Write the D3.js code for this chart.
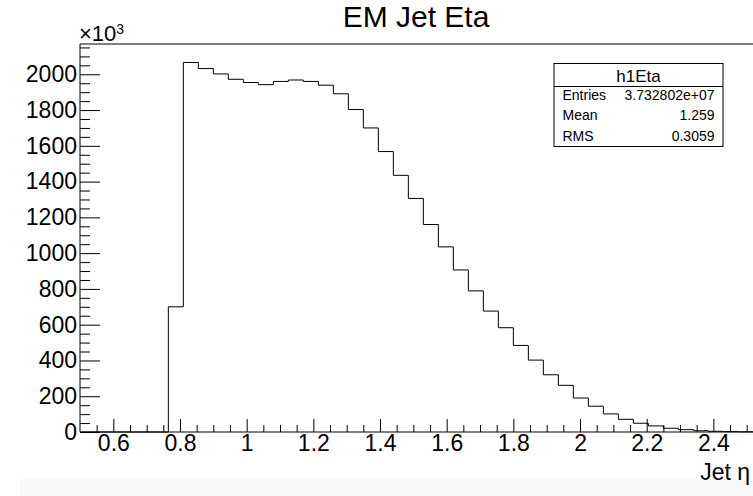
<!DOCTYPE html>
<html>
<head>
<meta charset="utf-8">
<script src="https://cdn.jsdelivr.net/npm/d3@7"></script>
<style>
  body { margin: 0; background: #fff; }
  svg { display: block; font-family: "Liberation Sans", Arial, sans-serif; }
</style>
</head>
<body>
<div id="wrapper"></div>
<script>
// histogram h1Eta : lower bin edges and contents (in units of 10^3)
const binLow = [0.765, 0.81, 0.855, 0.9, 0.945, 0.99, 1.035, 1.08, 1.125, 1.17,
    1.215, 1.26, 1.305, 1.35, 1.395, 1.44, 1.485, 1.53, 1.575, 1.62,
    1.665, 1.71, 1.755, 1.8, 1.845, 1.89, 1.935, 1.98, 2.025, 2.07,
    2.115, 2.16, 2.205, 2.25, 2.295, 2.34, 2.385, 2.43, 2.475, 2.52]
const binContent = [700, 2066, 2032, 2002, 1972, 1954, 1942, 1960, 1968, 1960,
    1939, 1891, 1803, 1700, 1568, 1435, 1306, 1160, 1035, 906,
    789, 676, 583, 484, 402, 320, 261, 190, 144, 101,
    71, 49, 34, 21, 13, 7, 4, 2, 1, 1]
const binWidth = 0.045
const xMajorTicks = [0.6, 0.8, 1, 1.2, 1.4, 1.6, 1.8, 2, 2.2, 2.4]
const yMajorTicks = [0, 200, 400, 600, 800, 1000, 1200, 1400, 1600, 1800, 2000]
const statLabels = ["Entries", "Mean", "RMS"]
const statValues = ["3.732802e+07", "1.259", "0.3059"]

const width = 753
const height = 496
const frame = { left: 80, top: 44, bottom: 432, right: 760 }

const svg = d3.select("#wrapper").append("svg")
    .attr("width", width)
    .attr("height", height)

// faint status strip at the bottom of the canvas
svg.append("rect")
    .attr("x", 20).attr("y", 479)
    .attr("width", width - 20).attr("height", height - 479)
    .attr("fill", "#f8f8f8")

const xScale = d3.scaleLinear()
    .domain([0.5, 2.5])
    .range([frame.left, 746.7])

const yMax = d3.max(binContent) * 1.05
const yScale = d3.scaleLinear()
    .domain([0, yMax])
    .range([frame.bottom, frame.top])

// frame
svg.append("path")
    .attr("d", `M${frame.right},${frame.top}H${frame.left}V${frame.bottom}H${frame.right}`)
    .attr("fill", "none")
    .attr("stroke", "#000")
    .attr("stroke-width", 1)

// histogram outline
const points = [[0.5, 0]]
binLow.forEach((x, i) => points.push([x, binContent[i]]))
points.push([binLow[binLow.length - 1] + binWidth, 0])

const line = d3.line()
    .x(d => xScale(d[0]))
    .y(d => yScale(d[1]))
    .curve(d3.curveStepAfter)

svg.append("path")
    .attr("d", line(points))
    .attr("fill", "none")
    .attr("stroke", "#000")
    .attr("stroke-width", 1)

// x axis (ticks pointing inward)
const xMinor = d3.range(0.55, 2.56, 0.05).filter(v => !xMajorTicks.some(m => Math.abs(m - v) < 1e-6))

svg.append("g")
    .attr("transform", `translate(0,${frame.bottom})`)
    .call(d3.axisBottom(xScale).tickValues(xMinor).tickSize(-7).tickFormat(""))
    .call(g => g.select(".domain").remove())

svg.append("g")
    .attr("transform", `translate(0,${frame.bottom})`)
    .call(d3.axisBottom(xScale).tickValues(xMajorTicks).tickSize(-13).tickPadding(3).tickFormat(d3.format("")))
    .call(g => g.select(".domain").remove())
    .call(g => g.selectAll("text")
        .attr("font-size", 23)
        .attr("font-family", "Liberation Sans, Arial, sans-serif")
        .attr("dy", "0.71em")
        .attr("fill", "#000"))

// y axis
const yMinor = d3.range(50, yMax, 50).filter(v => v % 200 !== 0)

svg.append("g")
    .attr("transform", `translate(${frame.left},0)`)
    .call(d3.axisLeft(yScale).tickValues(yMinor).tickSize(-10).tickFormat(""))
    .call(g => g.select(".domain").remove())

svg.append("g")
    .attr("transform", `translate(${frame.left},0)`)
    .call(d3.axisLeft(yScale).tickValues(yMajorTicks).tickSize(-20).tickPadding(3).tickFormat(d3.format("")))
    .call(g => g.select(".domain").remove())
    .call(g => g.selectAll("text")
        .attr("font-size", 23)
        .attr("font-family", "Liberation Sans, Arial, sans-serif")
        .attr("fill", "#000"))

// exponent label
const expo = svg.append("text")
    .attr("x", 79).attr("y", 41)
    .attr("font-size", 22)
    .text("×10")
expo.append("tspan")
    .attr("dy", -7)
    .attr("font-size", 14)
    .text("3")

// title and axis title
svg.append("text")
    .attr("x", 416).attr("y", 27)
    .attr("text-anchor", "middle")
    .attr("font-size", 30)
    .text("EM Jet Eta")

svg.append("text")
    .attr("x", 750).attr("y", 480)
    .attr("text-anchor", "end")
    .attr("font-size", 23)
    .text("Jet η")

// statistics box
const box = { x0: 554, x1: 723, y0: 63.5, y1: 146.5, yDiv: 86.5 }
const stats = svg.append("g")
stats.append("rect")
    .attr("x", box.x0).attr("y", box.y0)
    .attr("width", box.x1 - box.x0).attr("height", box.y1 - box.y0)
    .attr("fill", "#fff").attr("stroke", "#000").attr("stroke-width", 1)
stats.append("line")
    .attr("x1", box.x0).attr("x2", box.x1)
    .attr("y1", box.yDiv).attr("y2", box.yDiv)
    .attr("stroke", "#000")
stats.append("text")
    .attr("x", (box.x0 + box.x1) / 2).attr("y", 81.5)
    .attr("text-anchor", "middle")
    .attr("font-size", 17)
    .text("h1Eta")
stats.selectAll(".lab")
    .data(statLabels)
    .join("text")
    .attr("class", "lab")
    .attr("x", 562.5)
    .attr("y", (d, i) => 100 + i * 20.3)
    .attr("font-size", 14)
    .text(d => d)
stats.selectAll(".val")
    .data(statValues)
    .join("text")
    .attr("class", "val")
    .attr("x", 714.5)
    .attr("y", (d, i) => 100 + i * 20.3)
    .attr("text-anchor", "end")
    .attr("font-size", 14)
    .text(d => d)
</script>
</body>
</html>
